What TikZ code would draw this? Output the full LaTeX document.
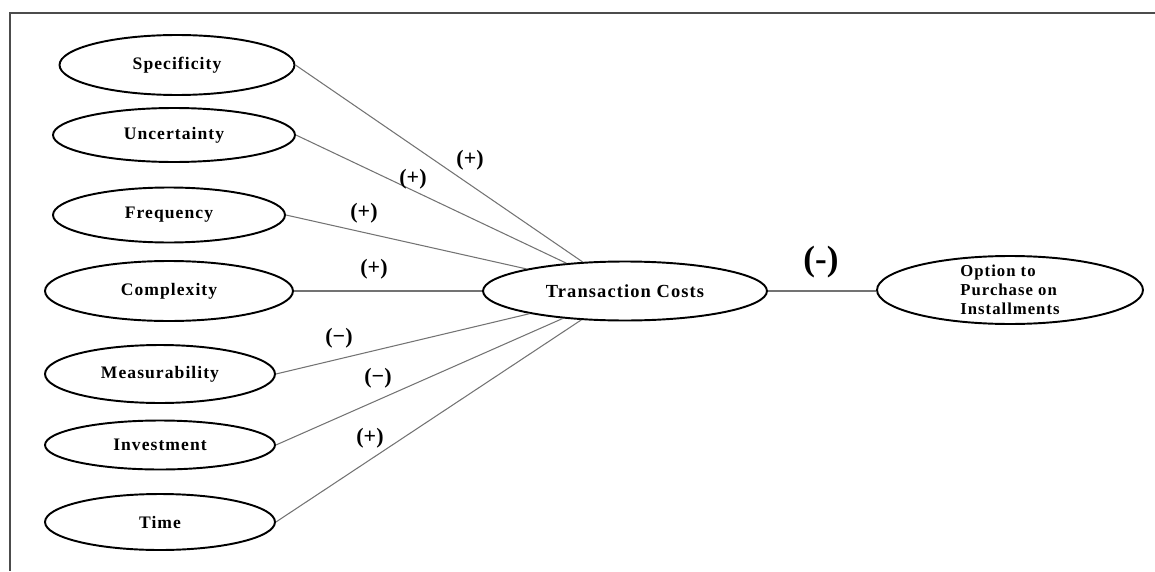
\documentclass[tikz,border=0pt]{standalone}
\usepackage{fontspec}
\setmainfont{Liberation Serif}
\newfontfamily\ovalfont{Liberation Serif}[LetterSpace=6.0]
\usetikzlibrary{shapes.geometric}

\begin{document}
\begin{tikzpicture}[
  x=0.02cm, y=-0.02cm,
  oval/.style={ellipse, draw, line width=1.1pt, inner sep=0pt,
               font=\ovalfont\bfseries\fontsize{10}{12}\selectfont},
  link/.style={draw=black!55, line width=0.6pt},
  sign/.style={font=\bfseries\fontsize{12.5}{14}\selectfont}]
\useasboundingbox (0,0) rectangle (1155,571);
\draw[black!70, line width=1.3pt] (1155,13) -- (10,13) -- (10,571);
% constructs
\node[oval, minimum width=4.7cm, minimum height=1.2cm] (spec) at (177,65) {Specificity};
\node[oval, minimum width=4.84cm, minimum height=1.08cm] (unc) at (174,135) {Uncertainty};
\node[oval, minimum width=4.64cm, minimum height=1.1cm] (freq) at (169,215) {Frequency};
\node[oval, minimum width=4.96cm, minimum height=1.2cm] (compl) at (169,291) {Complexity};
\node[oval, minimum width=4.6cm, minimum height=1.16cm] (meas) at (160,374) {Measurability};
\node[oval, minimum width=4.6cm, minimum height=0.98cm] (inv) at (160,445) {Investment};
\node[oval, minimum width=4.6cm, minimum height=1.12cm] (time) at (160,522) {Time};
\node[oval, minimum width=5.68cm, minimum height=1.18cm,
      font=\ovalfont\bfseries\fontsize{10.5}{12}\selectfont] (tc) at (625,291) {Transaction Costs};
\node[oval, minimum width=5.32cm, minimum height=1.36cm, inner sep=-3pt, align=left,
      font=\ovalfont\bfseries\fontsize{9.5}{10.8}\selectfont] (opt) at (1010,290)
  {Option to\\Purchase on\\Installments};
% links
\draw[link] (spec.east) -- (tc);
\draw[link] (unc.east) -- (tc);
\draw[link] (freq.east) -- (tc);
\draw[link] (compl.east) -- (tc);
\draw[link] (meas.east) -- (tc);
\draw[link] (inv.east) -- (tc);
\draw[link] (time.east) -- (tc);
\draw[link] (tc.east) -- (tc.east -| opt.west);
% signs
\node[sign] (s1) at (470,160) {(+)};
\node[sign] (s2) at (413,179) {(+)};
\node[sign] (s3) at (364,213) {(+)};
\node[sign] (s4) at (374,269) {(+)};
\node[sign] (s5) at (339,338) {(−)};
\node[sign] (s6) at (378,378) {(−)};
\node[sign] (s7) at (370,438) {(+)};
\node[font=\bfseries\fontsize{20}{22}\selectfont] (s8) at (821,262) {(-)};
\end{tikzpicture}
\end{document}
